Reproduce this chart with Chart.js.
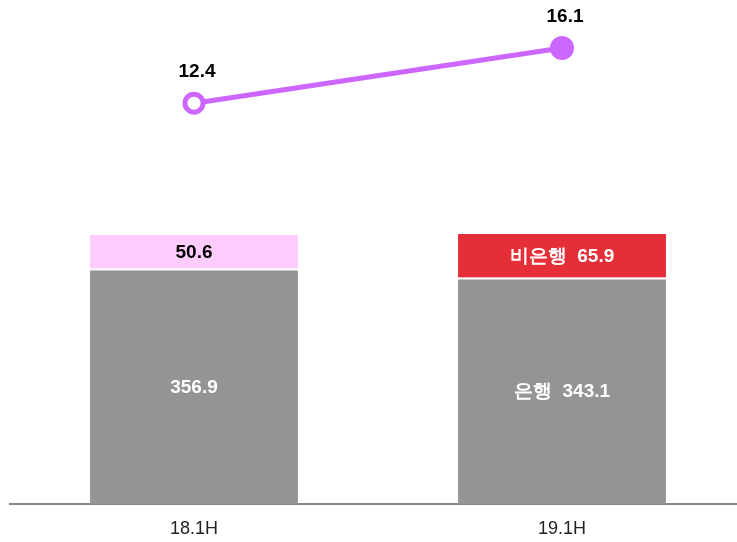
<!DOCTYPE html>
<html>
<head>
<meta charset="utf-8">
<script src="https://cdn.jsdelivr.net/npm/chart.js@4.4.1/dist/chart.umd.min.js"></script>
<style>
    html, body { margin: 0; padding: 0; background: #fff; overflow: hidden; }
    #wrap { width: 737px; height: 542px; overflow: hidden; }
</style>
</head>
<body>
<div id="wrap"><canvas id="chart" width="756" height="542"></canvas></div>
<script>
var categories = ['18.1H', '19.1H'];
var bank = [356.9, 343.1];
var nonBank = [50.6, 65.9];
var ratio = [12.4, 16.1];
var bankNames = ['', '은행'];
var nonBankNames = ['', '비은행'];
var nonBankColors = ['#ffccff', '#e52f38'];
var nonBankTextColors = ['#000000', '#ffffff'];

var FONT = '"Liberation Sans", Arial, sans-serif';

// draws the value labels, no datalabels plugin here
var labelPlugin = {
    id: 'labels',
    afterDatasetsDraw: function (chart) {
        var ctx = chart.ctx;
        ctx.save();
        ctx.textAlign = 'center';
        ctx.textBaseline = 'middle';
        ctx.font = 'bold 19px ' + FONT;

        var bankMeta = chart.getDatasetMeta(1);
        var nonBankMeta = chart.getDatasetMeta(2);
        var lineMeta = chart.getDatasetMeta(0);

        for (var i = 0; i < categories.length; i++) {
            var b = bankMeta.data[i];
            var txt = (bankNames[i] ? bankNames[i] + '  ' : '') + bank[i].toFixed(1);
            ctx.fillStyle = '#ffffff';
            ctx.fillText(txt, b.x, (b.y + b.base) / 2 + 1);

            var n = nonBankMeta.data[i];
            txt = (nonBankNames[i] ? nonBankNames[i] + '  ' : '') + nonBank[i].toFixed(1);
            ctx.fillStyle = nonBankTextColors[i];
            ctx.fillText(txt, n.x, (n.y + n.base) / 2 + 1);

            var p = lineMeta.data[i];
            ctx.fillStyle = '#000000';
            ctx.fillText(ratio[i].toFixed(1), p.x + 3, p.y - 31);
        }
        ctx.restore();
    }
};

new Chart(document.getElementById('chart'), {
    data: {
        labels: categories,
        datasets: [
            {
                type: 'line',
                data: ratio,
                yAxisID: 'y2',
                borderColor: '#cc66ff',
                borderWidth: 5,
                pointRadius: [9, 12],
                pointBorderWidth: [5, 0],
                pointBorderColor: '#cc66ff',
                pointBackgroundColor: ['#ffffff', '#cc66ff'],
                order: 0
            },
            {
                type: 'bar',
                data: bank,
                backgroundColor: '#939495',
                borderColor: '#ffffff',
                borderWidth: { top: 2, left: 0, right: 0, bottom: 0 },
                borderSkipped: false,
                stack: 's',
                order: 1
            },
            {
                type: 'bar',
                data: nonBank,
                backgroundColor: nonBankColors,
                borderWidth: 0,
                stack: 's',
                order: 1
            }
        ]
    },
    options: {
        responsive: false,
        animation: false,
        layout: { autoPadding: false, padding: { left: 10, right: 10, top: 10, bottom: -12 } },
        plugins: { legend: { display: false }, tooltip: { enabled: false } },
        datasets: { bar: { categoryPercentage: 1, barPercentage: 0.565 } },
        scales: {
            x: {
                stacked: true,
                grid: { display: false, drawTicks: false },
                border: { display: true, color: '#888888', width: 2 },
                ticks: { color: '#222222', padding: 14, font: { family: FONT, size: 18 } }
            },
            y: {
                stacked: true,
                display: false,
                min: 0,
                max: 748
            },
            y2: {
                display: false,
                min: -14.5,
                max: 18.65
            }
        }
    },
    plugins: [labelPlugin]
});
</script>
</body>
</html>
